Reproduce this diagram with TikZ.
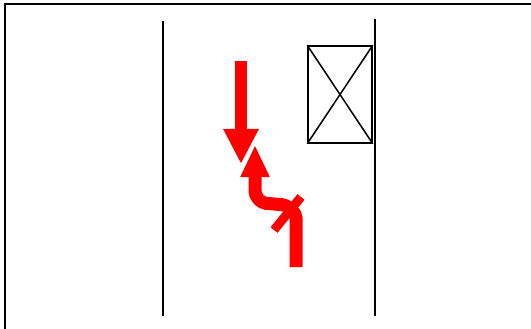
\documentclass[tikz,border=0pt]{standalone}
\usetikzlibrary{arrows.meta}
\begin{document}
\begin{tikzpicture}[x=1pt,y=-1pt,
  wall/.style={draw=black,line width=2.2pt},
  redarrow/.style={draw=red,line width=12pt},
  xbox/.style={draw=black,line width=1.6pt,minimum width=64pt,minimum height=97pt,inner sep=0pt}]
\useasboundingbox (0,0) rectangle (531,329);
\fill[white] (0,0) rectangle (531,329);
% frame
\draw[wall] (5,330) -- (5,4) -- (532,4);
% walls
\draw[wall] (163,21) -- (163,316);
\draw[wall] (375,19) -- (375,316);
% crossed box
\node[xbox] (box) at (340,94.5) {};
\draw[black,line width=1.5pt] (box.north west) -- (box.south east);
\draw[black,line width=1.5pt] (box.north east) -- (box.south west);
% down arrow
\coordinate (d1) at (241,61);
\coordinate (d2) at (241,164);
\draw[redarrow,-{Triangle[length=35pt,width=33pt]}] (d1) -- (d2);
% up arrow with turn
\coordinate (u1) at (296,267);
\coordinate (u2) at (296,214);
\coordinate (u3) at (286,205);
\coordinate (u4) at (262,203);
\coordinate (u5) at (255,195);
\coordinate (u6) at (255,145);
\draw[redarrow,line width=13pt,rounded corners=4pt,-{Triangle[length=32pt,width=27pt]}] (u1) -- (u2) -- (u3) -- (u4) -- (u5) -- (u6);
% diagonal stroke
\coordinate (x1) at (274,230);
\coordinate (x2) at (301,197);
\draw[draw=red,line width=9pt] (x1) -- (x2);
\end{tikzpicture}
\end{document}
